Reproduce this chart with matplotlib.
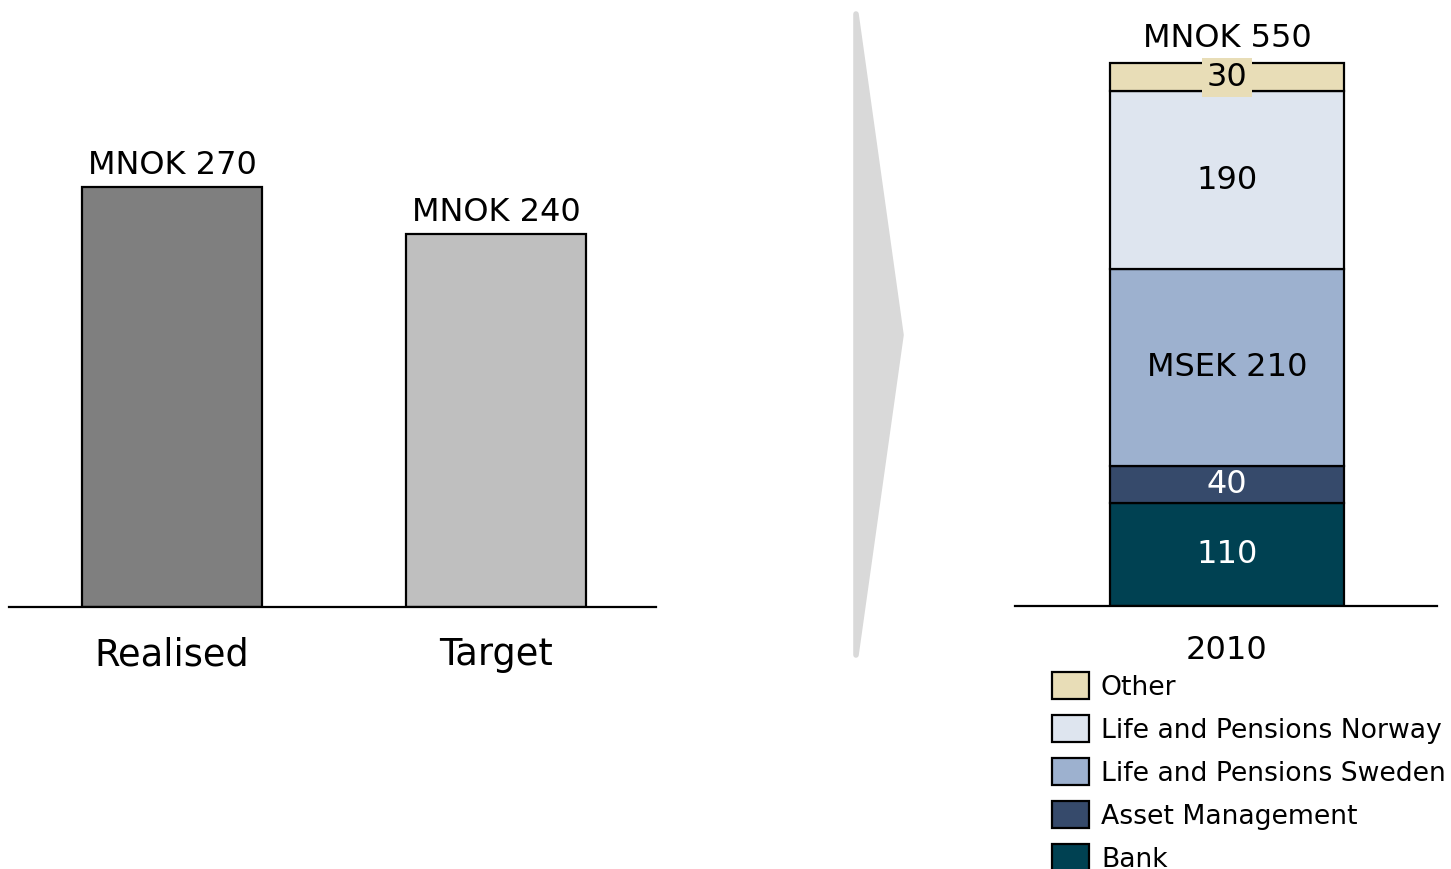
import matplotlib.pyplot as plt
from matplotlib.patches import Polygon, Rectangle

# left panel: result vs target
left_cats = ["Realised", "Target"]
left_vals = [270, 240]
left_labels = ["MNOK 270", "MNOK 240"]
left_colors = ["#7f7f7f", "#bfbfbf"]

# right panel: 2010 split by business area (bottom to top)
year = ["2010"]
segments = ["Bank", "Asset Management", "Life and Pensions Sweden",
            "Life and Pensions Norway", "Other"]
seg_vals = [110, 40, 210, 190, 30]
seg_labels = ["110", "40", "MSEK 210", "190", "30"]
seg_colors = ["#004152", "#364a6b", "#9db1cf", "#dee5ef", "#e8ddb7"]
seg_text = ["white", "white", "black", "black", "black"]
total_label = "MNOK 550"

W, H = 1451, 869
fig = plt.figure(figsize=(W / 100, H / 100), dpi=100)
plt.rcParams['font.family'] = ['DejaVu Sans']
LW = 1.6


def box(x0, y0, x1, y1):
    # pixel box (top-left origin) -> figure fraction rect
    return [x0 / W, 1 - y1 / H, (x1 - x0) / W, (y1 - y0) / H]


# ---- left chart ----
ax1 = fig.add_axes(box(9, 0, 656, 607))
ax1.bar(range(len(left_cats)), left_vals, width=0.556, color=left_colors,
        edgecolor="black", linewidth=LW)
for i, (v, lab) in enumerate(zip(left_vals, left_labels)):
    ax1.text(i, v + 4, lab, ha="center", va="bottom", fontsize=23)
ax1.set_xlim(-0.503, 1.494)
ax1.set_ylim(0, 607 / 1.555)
ax1.set_xticks(range(len(left_cats)))
ax1.set_xticklabels(left_cats, fontsize=26.5)
ax1.tick_params(axis="x", length=0, pad=21)
ax1.set_yticks([])
for s in ["top", "right", "left"]:
    ax1.spines[s].set_visible(False)
ax1.spines["bottom"].set_linewidth(LW)
ax1.patch.set_alpha(0)

# ---- arrow ----
pts = [(856, 14), (901, 335), (856, 655)]
arrow = Polygon([(x / W, 1 - y / H) for x, y in pts], closed=True,
                transform=fig.transFigure, facecolor="#d9d9d9",
                edgecolor="#d9d9d9", linewidth=4, joinstyle="round")
fig.patches.append(arrow)

# ---- right chart ----
ax2 = fig.add_axes(box(1015, 0, 1437, 606))
bottom = 0
for v, lab, c, tc in zip(seg_vals, seg_labels, seg_colors, seg_text):
    ax2.bar(0, v, bottom=bottom, width=1.0, color=c, edgecolor="black",
            linewidth=LW)
    kw = {}
    if lab == "30":
        kw["bbox"] = dict(facecolor=c, edgecolor="none", pad=3)
    ax2.text(0, bottom + v / 2, lab, ha="center", va="center",
             fontsize=23, color=tc, **kw)
    bottom += v
ax2.text(0, bottom + 10, total_label, ha="center", va="bottom", fontsize=23)
ax2.set_xlim(-212 / 234, 210 / 234)
ax2.set_ylim(0, 606 / 0.936)
ax2.set_xticks([0])
ax2.set_xticklabels(year, fontsize=23)
ax2.tick_params(axis="x", length=0, pad=21)
ax2.set_yticks([])
for s in ["top", "right", "left"]:
    ax2.spines[s].set_visible(False)
ax2.spines["bottom"].set_linewidth(LW)
ax2.patch.set_alpha(0)

# ---- legend (top entry = last segment) ----
for k, (name, c) in enumerate(zip(segments[::-1], seg_colors[::-1])):
    yc = 686 + k * 43
    fig.patches.append(Rectangle(((1052) / W, 1 - (yc + 13) / H), 37 / W, 27 / H,
                                 transform=fig.transFigure, facecolor=c,
                                 edgecolor="black", linewidth=LW))
    fig.text(1101 / W, 1 - (yc + 2) / H, name, ha="left", va="center",
             fontsize=19.2)

fig.savefig("out.png", dpi=100)
